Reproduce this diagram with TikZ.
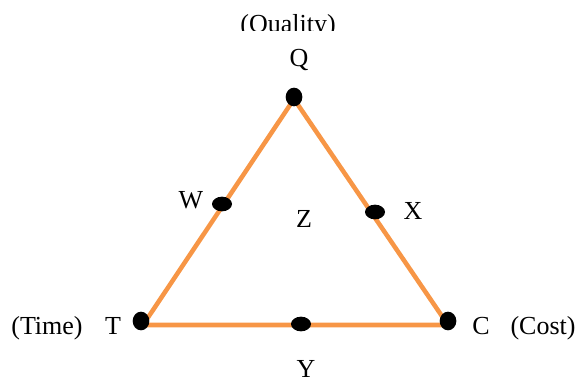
\documentclass[tikz,border=0pt]{standalone}
\usepackage{fontspec}
\setmainfont{Liberation Serif}
\usetikzlibrary{shapes.geometric}
\definecolor{edgeorange}{RGB}{247,150,70}

\begin{document}
\begin{tikzpicture}[
    x=0.75pt, y=-0.75pt,
    side/.style={draw=edgeorange, line width=3.4pt, line join=round},
    dot/.style={ellipse, fill=black, inner sep=0pt,
                minimum width=15pt, minimum height=11pt},
    cornerdot/.style={dot, minimum width=12.5pt, minimum height=14pt},
    letter/.style={anchor=base, font=\fontsize{19.5}{23}\selectfont, inner sep=0pt},
]
\useasboundingbox (0,0) rectangle (580,381);

% ===================== TRIANGLE =====================
\coordinate (qv) at (294,99);
\coordinate (tv) at (143,325);
\coordinate (cv) at (448,325);
\draw[side] (qv) -- (tv) -- (cv) -- cycle;

% ===================== DOTS =====================
\node[cornerdot] (Qdot) at (294,97) {};
\node[cornerdot] (Tdot) at (141,321) {};
\node[cornerdot] (Cdot) at (448,321) {};
\node[dot] (Wdot) at (222,204) {};
\node[dot] (Xdot) at (375,212) {};
\node[dot] (Ydot) at (301,324) {};

% ===================== LABELS =====================
\begin{scope}
  \clip (0,0) rectangle (580,31);
  \node[letter] (quality) at (288,33) {(Quality)};
\end{scope}
\node[letter] (Q) at (299,67) {Q};
\node[letter] (W) at (191,208) {W};
\node[letter] (Z) at (304,227) {Z};
\node[letter] (X) at (413,219) {X};
\node[letter] (T) at (113,334) {T};
\node[letter] (time) at (47,334) {(Time)};
\node[letter] (C) at (481,334) {C};
\node[letter] (cost) at (543,334) {(Cost)};
\node[letter] (Y) at (306,377) {Y};

\end{tikzpicture}
\end{document}
